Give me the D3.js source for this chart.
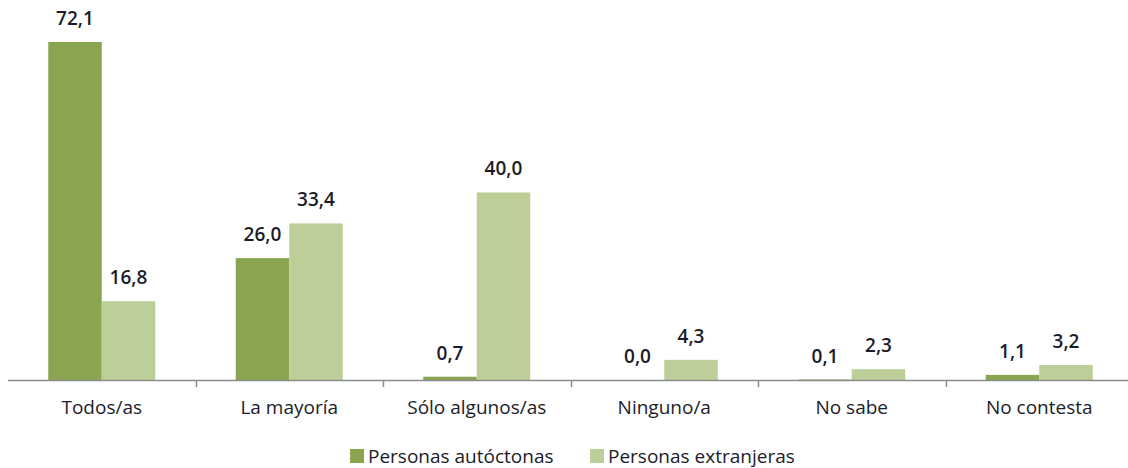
<!DOCTYPE html>
<html><head><meta charset="utf-8">
<script src="https://cdn.jsdelivr.net/npm/d3@7"></script>
<style>body{margin:0;background:#fff}svg{display:block}</style>
</head><body><svg id="c" width="1128" height="468"></svg>
<script>
const categories = ["Todos/as","La mayoría","Sólo algunos/as","Ninguno/a","No sabe","No contesta"];
const seriesNames = ["Personas autóctonas","Personas extranjeras"];
const autoctonas = [72.1,26.0,0.7,0.0,0.1,1.1];
const extranjeras = [16.8,33.4,40.0,4.3,2.3,3.2];
const colors = ["#8aa54f","#bccf98"];

const svg = d3.select("#c");
const font = "'Open Sans', sans-serif";
const x0 = d3.scaleBand().domain(categories).range([8,1133]).padding(0);
const x1 = d3.scaleBand().domain(seriesNames).range([40.25, x0.bandwidth()-40.25]).padding(0);
const y = d3.scaleLinear().domain([0,80]).range([380, 380-80*338/72.1]);
const vals = [autoctonas, extranjeras];

const g = svg.append("g");
categories.forEach((c,i)=>{
  seriesNames.forEach((s,j)=>{
    const v = vals[j][i];
    g.append("rect").attr("x", x0(c)+x1(s)).attr("width", x1.bandwidth())
      .attr("y", y(v)).attr("height", y(0)-y(v)).attr("fill", colors[j]);
    g.append("text").attr("x", x0(c)+x1(s)+x1.bandwidth()/2).attr("y", y(v)-17)
      .attr("text-anchor","middle").attr("font-family",font).attr("font-size",19)
      .attr("font-weight","600").attr("fill","#1c1c2a").text(v.toFixed(1).replace(".",","));
  });
});
// axis
svg.append("line").attr("x1",8).attr("x2",1128).attr("y1",380.5).attr("y2",380.5).attr("stroke","#8c8c8c").attr("stroke-width",1.5);
categories.slice(1).forEach(c=>{
  const xx = Math.round(x0(c))+0.5;
  svg.append("line").attr("x1",xx).attr("x2",xx).attr("y1",380).attr("y2",387).attr("stroke","#8c8c8c").attr("stroke-width",1.5);
});
categories.forEach(c=>{
  svg.append("text").attr("x", x0(c)+x0.bandwidth()/2).attr("y",414).attr("text-anchor","middle")
    .attr("font-family",font).attr("font-size",19).attr("fill","#1c1c2a").text(c);
});
// legend
const legX = [350, 590];
seriesNames.forEach((s,j)=>{
  svg.append("rect").attr("x",legX[j]).attr("y",449).attr("width",14).attr("height",14).attr("fill",colors[j]);
  svg.append("text").attr("x",legX[j]+18).attr("y",463).attr("font-family",font).attr("font-size",19)
    .attr("fill","#1c1c2a").text(s);
});
</script></body></html>
